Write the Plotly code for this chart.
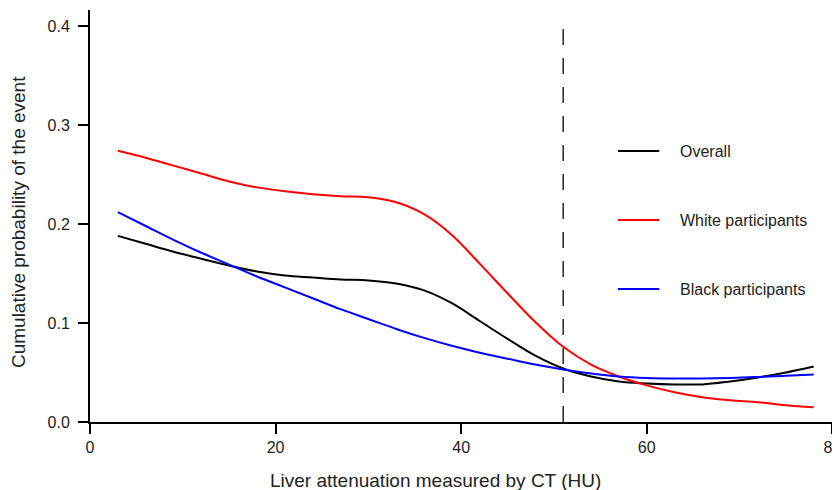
import plotly.graph_objects as go

x_hu = [3, 6, 9, 12, 15, 18, 21, 24, 27, 30, 33, 36, 39, 42, 45, 48, 51, 54, 57, 60, 63, 66, 69, 72, 75, 78]

overall = [0.188, 0.180, 0.172, 0.165, 0.158, 0.152, 0.148, 0.146, 0.144, 0.143, 0.140, 0.133, 0.120,
           0.102, 0.084, 0.067, 0.054, 0.046, 0.041, 0.039, 0.038, 0.038, 0.041, 0.045, 0.050, 0.056]
white = [0.274, 0.267, 0.259, 0.251, 0.243, 0.237, 0.233, 0.230, 0.228, 0.227, 0.222, 0.210, 0.189,
         0.160, 0.130, 0.101, 0.076, 0.058, 0.046, 0.037, 0.030, 0.025, 0.022, 0.020, 0.017, 0.015]
black = [0.212, 0.198, 0.184, 0.171, 0.159, 0.147, 0.136, 0.125, 0.114, 0.104, 0.094, 0.085, 0.077,
         0.070, 0.064, 0.058, 0.053, 0.049, 0.046, 0.0445, 0.044, 0.044, 0.0445, 0.0455, 0.0467, 0.048]

series_names = ["Overall", "White participants", "Black participants"]
series_colors = ["#000000", "#FF0000", "#0000FF"]
series_values = [overall, white, black]

cutoff_hu = 51
x_ticks = [0, 20, 40, 60, 80]
y_ticks = [0.0, 0.1, 0.2, 0.3, 0.4]
y_tick_labels = ["0.0", "0.1", "0.2", "0.3", "0.4"]

x_title = "Liver attenuation measured by CT (HU)"
y_title = "Cumulative probability of the event"

# legend placement (data coordinates)
legend_x0, legend_x1, legend_text_x = 56.9, 61.35, 63.4
legend_y = [0.2737, 0.204, 0.1343]

FONT = "Liberation Sans, Arial, sans-serif"
TXT = "#222222"

fig = go.Figure()
for name, color, vals in zip(series_names, series_colors, series_values):
    fig.add_trace(go.Scatter(x=x_hu, y=vals, mode="lines", name=name,
                             line=dict(color=color, width=2, shape="spline", smoothing=1.0),
                             showlegend=False))

fig.add_shape(type="line", x0=cutoff_hu, x1=cutoff_hu, y0=0, y1=0.404, xref="x", yref="y",
              line=dict(color="#333333", width=1.6, dash="16px,13px"))

for name, color, ly in zip(series_names, series_colors, legend_y):
    fig.add_shape(type="line", x0=legend_x0, x1=legend_x1, y0=ly, y1=ly, xref="x", yref="y",
                  line=dict(color=color, width=2))
    fig.add_annotation(x=legend_text_x, y=ly, xref="x", yref="y", text=name, showarrow=False,
                       xanchor="left", yanchor="middle", font=dict(family=FONT, size=16, color=TXT))

fig.add_annotation(x=0.4625, y=-0.1408, xref="paper", yref="paper", text=x_title, showarrow=False,
                   xanchor="center", yanchor="middle", font=dict(family=FONT, size=19, color=TXT))
fig.add_annotation(x=-0.0958, y=0.4842, xref="paper", yref="paper", text=y_title, showarrow=False,
                   textangle=-90, xanchor="center", yanchor="middle",
                   font=dict(family=FONT, size=19, color=TXT))

# page body has an 8px margin, so the figure is sized/offset to fit the 840x490 window
fig.update_layout(
    width=832, height=482,
    margin=dict(l=82, r=4, t=2, b=68),
    plot_bgcolor="white", paper_bgcolor="white",
    font=dict(family=FONT, color=TXT),
)
fig.update_xaxes(range=[0, 80.4], tickvals=x_ticks, showline=True, linecolor="black", linewidth=2,
                 ticks="outside", ticklen=10, tickwidth=2, tickcolor="black", automargin=False,
                 ticklabeloverflow="allow",
                 showgrid=False, zeroline=False, tickfont=dict(size=16, color=TXT))
fig.update_yaxes(range=[0, 0.4162], tickvals=y_ticks, ticktext=y_tick_labels, showline=True,
                 linecolor="black", linewidth=2, ticks="outside", ticklen=10, tickwidth=2, tickcolor="black",
                 ticklabelstandoff=5, ticklabeloverflow="allow",
                 automargin=False, showgrid=False, zeroline=False, tickfont=dict(size=16, color=TXT))

fig.write_html("out.html")
